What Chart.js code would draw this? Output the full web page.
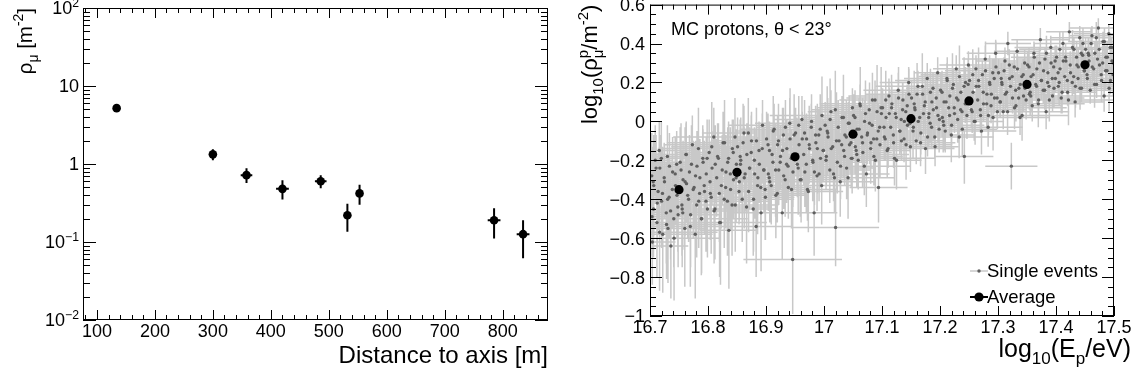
<!DOCTYPE html>
<html>
<head>
<meta charset="utf-8">
<script src="https://cdn.jsdelivr.net/npm/chart.js@4.4.1/dist/chart.umd.min.js"></script>
<style>
  html, body { margin: 0; padding: 0; background: #fff; }
  #wrap { position: relative; width: 1139px; height: 380px; }
  #left { position: absolute; left: 0; top: 0; }
  #right { position: absolute; left: 560px; top: 0; }
</style>
</head>
<body>
<div id="wrap">
  <canvas id="left" width="560" height="380"></canvas>
  <canvas id="right" width="579" height="380"></canvas>
</div>
<script>
// ---- left panel: muon density vs distance to axis ----
const distance    = [134, 300, 358, 420, 486, 532, 553, 785, 835];
const distanceErr = [6, 6, 10, 11, 10, 6, 6, 11, 11];
const rhoMu       = [5.2, 1.33, 0.72, 0.48, 0.60, 0.22, 0.42, 0.19, 0.126];
const rhoMuLow    = [4.9, 1.12, 0.57, 0.35, 0.49, 0.135, 0.30, 0.111, 0.062];
const rhoMuHigh   = [5.5, 1.54, 0.88, 0.62, 0.72, 0.31, 0.54, 0.27, 0.19];

const leftXTicks  = [100, 200, 300, 400, 500, 600, 700, 800];
const leftXLabels = ['100', '200', '300', '400', '500', '600', '700', '800'];
const leftYTicks  = [0.01, 0.1, 1, 10, 100];
const leftYLabels = [['10', '\u22122'], ['10', '\u22121'], ['1', ''], ['10', ''], ['10', '2']];

// ---- right panel: log10(rho) vs log10(E), averages ----
const avgEnergy = [16.75, 16.85, 16.95, 17.05, 17.15, 17.25, 17.35, 17.45];
const avgLogRho = [-0.351, -0.262, -0.182, -0.066, 0.014, 0.105, 0.190, 0.291];

// single events, first batch
const evEnergy = [
  16.703,16.706,16.709,16.712,16.714,16.717,16.720,16.722,16.725,16.728,16.730,16.733,16.736,16.739,16.741,16.744,16.746,16.748,16.704,16.716,16.731,
  16.752,16.755,16.757,16.760,16.762,16.765,16.768,16.770,16.773,16.776,16.778,16.781,16.784,16.786,16.789,16.791,16.794,16.797,16.799,16.763,
  16.802,16.804,16.807,16.810,16.812,16.815,16.818,16.820,16.823,16.826,16.828,16.831,16.834,16.836,16.839,16.842,16.844,16.847,16.849,
  16.851,16.854,16.856,16.859,16.862,16.864,16.867,16.870,16.872,16.875,16.878,16.880,16.883,16.886,16.888,16.891,16.894,16.896,16.899,
  16.901,16.904,16.906,16.909,16.912,16.914,16.917,16.920,16.922,16.925,16.928,16.930,16.933,16.936,16.938,16.941,16.944,16.946,16.949,
  16.951,16.954,16.957,16.959,16.962,16.965,16.967,16.970,16.973,16.975,16.978,16.981,16.983,16.986,16.988,16.991,16.994,16.996,16.999,
  17.002,17.004,17.007,17.010,17.012,17.015,17.018,17.020,17.023,17.026,17.028,17.031,17.034,17.036,17.039,17.042,17.044,17.047,17.049,
  17.051,17.054,17.057,17.059,17.062,17.065,17.067,17.070,17.073,17.075,17.078,17.081,17.083,17.086,17.088,17.091,17.094,17.096,17.099,
  17.101,17.104,17.107,17.109,17.112,17.115,17.117,17.120,17.123,17.125,17.128,17.131,17.133,17.136,17.138,17.141,17.144,17.146,17.149,
  17.151,17.154,17.157,17.159,17.162,17.165,17.167,17.170,17.173,17.175,17.178,17.181,17.183,17.186,17.188,17.191,17.194,17.196,17.199,
  17.201,17.204,17.207,17.209,17.212,17.215,17.217,17.220,17.223,17.225,17.228,17.231,17.233,17.236,17.238,17.242,17.244,17.246,17.249,
  17.251,17.254,17.257,17.259,17.262,17.265,17.267,17.270,17.273,17.275,17.278,17.281,17.283,17.286,17.288,17.291,17.294,17.296,17.299,
  17.301,17.304,17.307,17.309,17.312,17.315,17.317,17.320,17.323,17.325,17.328,17.331,17.333,17.336,17.338,17.341,17.344,17.346,17.349,
  17.351,17.354,17.357,17.359,17.362,17.365,17.367,17.370,17.373,17.375,17.378,17.381,17.383,17.386,17.388,17.391,17.394,17.396,17.399,
  17.401,17.404,17.407,17.409,17.412,17.415,17.417,17.420,17.423,17.425,17.428,17.431,17.433,17.436,17.438,17.441,17.444,17.446,17.449,
  17.451,17.454,17.457,17.459,17.462,17.465,17.467,17.470,17.473,17.475,17.478,17.481,17.483,17.486,17.488,17.491,17.494,17.496,17.499
];
const evLogRho = [
  -0.28,-0.45,-0.20,-0.52,-0.36,-0.24,-0.41,-0.58,-0.31,-0.47,-0.18,-0.39,-0.64,-0.26,-0.50,-0.33,-0.22,-0.44,-0.62,-0.15,-0.55,
  -0.21,-0.43,-0.30,-0.55,-0.17,-0.38,-0.26,-0.48,-0.12,-0.34,-0.58,-0.23,-0.41,-0.29,-0.50,-0.19,-0.36,-0.27,-0.45,-0.32,
  -0.16,-0.37,-0.24,-0.08,-0.45,-0.29,-0.19,-0.52,-0.33,-0.11,-0.40,-0.26,-0.21,-0.56,-0.35,-0.14,-0.30,-0.43,-0.22,
  -0.13,-0.31,-0.22,-0.40,-0.06,-0.27,-0.17,-0.36,-0.24,-0.10,-0.45,-0.20,-0.54,-0.29,-0.15,-0.34,-0.02,-0.25,-0.39,
  -0.09,-0.27,-0.15,-0.33,-0.21,-0.04,-0.38,-0.12,-0.25,-0.18,-0.47,-0.07,-0.30,-0.14,-0.23,-0.01,-0.35,-0.71,-0.19,
  -0.06,-0.22,-0.12,-0.30,0.01,-0.17,-0.26,-0.09,-0.36,-0.14,-0.03,-0.21,-0.47,-0.11,-0.28,-0.07,-0.19,-0.33,-0.15,
  -0.02,-0.18,-0.08,-0.25,0.05,-0.13,-0.29,-0.545,-0.21,-0.10,-0.31,0.02,-0.15,-0.07,-0.24,-0.01,-0.12,-0.19,0.07,
  0.03,-0.13,-0.04,-0.20,0.09,-0.08,-0.16,0.00,-0.27,-0.06,0.06,-0.11,-0.02,-0.18,0.11,-0.09,-0.34,-0.03,0.04,
  0.07,-0.08,0.02,-0.15,0.13,-0.03,0.09,-0.11,0.04,-0.20,0.16,-0.05,0.01,0.11,-0.09,0.05,-0.02,0.20,-0.13,
  0.12,-0.03,0.06,-0.10,0.18,0.02,-0.06,0.14,0.08,-0.14,0.22,0.04,-0.01,0.10,0.17,-0.08,0.07,0.25,0.01,
  0.16,0.02,0.10,-0.05,0.22,0.07,0.13,-0.02,0.19,0.04,0.27,0.11,-0.08,0.15,0.05,-0.18,0.20,0.09,0.29,
  0.21,0.06,0.15,0.00,0.27,0.11,0.18,0.03,0.24,0.09,0.32,0.14,-0.03,0.19,0.08,0.25,0.12,0.35,0.05,
  0.25,0.10,0.19,0.05,0.31,0.15,0.40,0.22,-0.23,0.12,0.28,0.08,0.36,0.17,0.02,0.23,0.13,0.30,0.19,
  0.29,0.14,0.23,0.08,0.35,0.19,0.27,0.11,0.42,0.21,0.16,0.32,0.05,0.25,0.18,0.38,0.13,0.28,0.22,
  0.33,0.18,0.27,0.12,0.40,0.23,0.31,0.15,0.46,0.25,0.20,0.37,0.10,0.29,0.22,0.43,0.17,0.34,0.26,
  0.37,0.22,0.31,0.16,0.44,0.27,0.35,0.19,0.48,0.29,0.24,0.41,0.13,0.33,0.26,0.45,0.21,0.38,0.30
];
const evEnergyErr = [
  0.04,0.06,0.03,0.05,0.07,0.04,0.05,0.03,0.06,0.04,0.05,0.08,0.03,0.05,0.04,0.06,0.05,0.03,0.04,0.06,0.05,
  0.05,0.03,0.07,0.04,0.06,0.05,0.09,0.04,0.05,0.06,0.03,0.07,0.05,0.04,0.06,0.05,0.08,0.04,0.05,0.06,
  0.06,0.04,0.05,0.07,0.03,0.06,0.05,0.04,0.08,0.05,0.06,0.04,0.07,0.05,0.03,0.06,0.05,0.04,0.07,
  0.05,0.07,0.04,0.06,0.05,0.08,0.04,0.06,0.05,0.07,0.04,0.05,0.06,0.04,0.07,0.05,0.06,0.04,0.05,
  0.06,0.04,0.05,0.07,0.04,0.06,0.05,0.08,0.04,0.05,0.06,0.04,0.07,0.05,0.04,0.06,0.05,0.085,0.04,
  0.05,0.07,0.04,0.06,0.05,0.04,0.08,0.05,0.06,0.04,0.05,0.07,0.04,0.06,0.05,0.04,0.06,0.05,0.07,
  0.04,0.06,0.05,0.07,0.04,0.05,0.06,0.075,0.05,0.04,0.06,0.05,0.07,0.04,0.05,0.06,0.04,0.05,0.06,
  0.05,0.04,0.06,0.05,0.07,0.04,0.05,0.06,0.04,0.05,0.07,0.04,0.06,0.05,0.04,0.06,0.05,0.04,0.06,
  0.04,0.06,0.05,0.04,0.07,0.05,0.04,0.06,0.05,0.04,0.06,0.05,0.07,0.04,0.05,0.06,0.04,0.05,0.06,
  0.05,0.04,0.06,0.05,0.04,0.07,0.05,0.04,0.06,0.05,0.04,0.06,0.05,0.07,0.04,0.05,0.06,0.04,0.05,
  0.04,0.06,0.05,0.04,0.06,0.05,0.07,0.04,0.05,0.06,0.04,0.05,0.06,0.04,0.05,0.05,0.04,0.06,0.05,
  0.05,0.04,0.06,0.05,0.04,0.05,0.06,0.04,0.05,0.07,0.04,0.05,0.06,0.04,0.05,0.04,0.06,0.05,0.04,
  0.04,0.05,0.06,0.04,0.05,0.06,0.04,0.05,0.045,0.06,0.04,0.05,0.04,0.06,0.05,0.04,0.05,0.06,0.04,
  0.05,0.04,0.06,0.05,0.04,0.05,0.06,0.04,0.05,0.04,0.06,0.05,0.04,0.05,0.06,0.04,0.05,0.04,0.06,
  0.04,0.05,0.06,0.04,0.05,0.04,0.06,0.05,0.04,0.05,0.06,0.04,0.05,0.04,0.06,0.05,0.04,0.05,0.06,
  0.05,0.04,0.06,0.05,0.04,0.05,0.04,0.06,0.05,0.04,0.05,0.06,0.04,0.05,0.04,0.06,0.05,0.04,0.05
];
const evLogRhoErr = [
  0.22,0.25,0.18,0.28,0.20,0.17,0.24,0.30,0.19,0.26,0.16,0.21,0.27,0.18,0.25,0.20,0.17,0.23,0.22,0.15,0.28,
  0.18,0.26,0.20,0.30,0.16,0.22,0.19,0.27,0.15,0.21,0.33,0.18,0.24,0.20,0.28,0.17,0.22,0.19,0.25,0.20,
  0.17,0.24,0.19,0.15,0.26,0.20,0.18,0.28,0.22,0.16,0.25,0.19,0.18,0.30,0.21,0.15,0.20,0.24,0.18,
  0.15,0.20,0.17,0.22,0.14,0.19,0.16,0.21,0.18,0.15,0.24,0.17,0.26,0.19,0.15,0.20,0.13,0.18,0.22,
  0.14,0.19,0.15,0.20,0.17,0.13,0.22,0.15,0.18,0.16,0.24,0.14,0.19,0.15,0.17,0.13,0.20,0.28,0.16,
  0.13,0.17,0.14,0.19,0.12,0.16,0.18,0.13,0.21,0.15,0.12,0.16,0.22,0.14,0.18,0.13,0.15,0.20,0.14,
  0.12,0.15,0.13,0.17,0.11,0.14,0.18,0.20,0.16,0.13,0.18,0.11,0.14,0.12,0.16,0.11,0.13,0.15,0.10,
  0.11,0.14,0.12,0.15,0.10,0.13,0.14,0.11,0.17,0.12,0.10,0.13,0.11,0.15,0.10,0.12,0.18,0.11,0.10,
  0.10,0.12,0.10,0.14,0.09,0.11,0.10,0.13,0.10,0.15,0.09,0.11,0.10,0.09,0.12,0.10,0.11,0.08,0.13,
  0.09,0.11,0.10,0.12,0.08,0.10,0.11,0.09,0.09,0.13,0.08,0.10,0.10,0.09,0.08,0.11,0.09,0.08,0.10,
  0.09,0.10,0.09,0.11,0.08,0.09,0.08,0.10,0.08,0.10,0.07,0.09,0.11,0.08,0.09,0.14,0.08,0.09,0.07,
  0.08,0.09,0.08,0.10,0.07,0.09,0.08,0.09,0.07,0.09,0.07,0.08,0.10,0.08,0.09,0.07,0.08,0.07,0.09,
  0.07,0.08,0.07,0.09,0.07,0.08,0.06,0.07,0.12,0.08,0.07,0.08,0.06,0.07,0.09,0.07,0.08,0.07,0.07,
  0.07,0.08,0.07,0.08,0.06,0.07,0.07,0.08,0.06,0.07,0.07,0.06,0.09,0.07,0.07,0.06,0.08,0.06,0.07,
  0.06,0.07,0.06,0.08,0.06,0.07,0.06,0.07,0.05,0.06,0.07,0.06,0.08,0.06,0.07,0.06,0.07,0.06,0.06,
  0.06,0.07,0.06,0.07,0.05,0.06,0.06,0.07,0.05,0.06,0.07,0.05,0.08,0.06,0.06,0.05,0.07,0.05,0.06
];

// single events, second batch
const evEnergyB = [
  16.7035,16.7065,16.7105,16.7125,16.7165,16.7195,16.7215,16.7245,16.7285,16.7305,16.7335,16.7355,16.7385,16.7415,16.7435,16.7465,16.7485,16.7055,
  16.7535,16.7565,16.7605,16.7625,16.7665,16.7695,16.7715,16.7745,16.7785,16.7805,16.7835,16.7855,16.7885,16.7915,16.7935,16.7965,16.7985,16.7555,
  16.8035,16.8065,16.8105,16.8125,16.8165,16.8195,16.8215,16.8245,16.8285,16.8305,16.8335,16.8355,16.8385,16.8415,16.8435,16.8465,16.8485,16.8055,
  16.8535,16.8565,16.8605,16.8625,16.8665,16.8695,16.8715,16.8745,16.8785,16.8805,16.8835,16.8855,16.8885,16.8915,16.8935,16.8965,16.8985,16.8555,
  16.9035,16.9065,16.9105,16.9125,16.9165,16.9195,16.9215,16.9245,16.9285,16.9305,16.9335,16.9355,16.9385,16.9415,16.9435,16.9465,16.9485,16.9055,
  16.9535,16.9565,16.9605,16.9625,16.9665,16.9695,16.9715,16.9745,16.9785,16.9805,16.9835,16.9855,16.9885,16.9915,16.9935,16.9965,16.9985,16.9555,
  17.0035,17.0065,17.0105,17.0125,17.0165,17.0195,17.0215,17.0245,17.0285,17.0305,17.0335,17.0355,17.0385,17.0415,17.0435,17.0465,17.0485,17.0055,
  17.0535,17.0565,17.0605,17.0625,17.0665,17.0695,17.0715,17.0745,17.0785,17.0805,17.0835,17.0855,17.0885,17.0915,17.0935,17.0965,17.0985,17.0555,
  17.1035,17.1065,17.1105,17.1125,17.1165,17.1195,17.1215,17.1245,17.1285,17.1305,17.1335,17.1355,17.1385,17.1415,17.1435,17.1465,17.1485,17.1055,
  17.1535,17.1565,17.1605,17.1625,17.1665,17.1695,17.1715,17.1745,17.1785,17.1805,17.1835,17.1855,17.1885,17.1915,17.1935,17.1965,17.1985,17.1555,
  17.2035,17.2065,17.2105,17.2125,17.2165,17.2195,17.2215,17.2245,17.2285,17.2305,17.2335,17.2355,17.2385,17.2415,17.2435,17.2465,17.2485,17.2055,
  17.2535,17.2565,17.2605,17.2625,17.2665,17.2695,17.2715,17.2745,17.2785,17.2805,17.2835,17.2855,17.2885,17.2915,17.2935,17.2965,17.2985,17.2555,
  17.3035,17.3065,17.3105,17.3125,17.3165,17.3195,17.3215,17.3245,17.3285,17.3305,17.3335,17.3355,17.3385,17.3415,17.3435,17.3465,17.3485,17.3055,
  17.3535,17.3565,17.3605,17.3625,17.3665,17.3695,17.3715,17.3745,17.3785,17.3805,17.3835,17.3855,17.3885,17.3915,17.3935,17.3965,17.3985,17.3555,
  17.4035,17.4065,17.4105,17.4125,17.4165,17.4195,17.4215,17.4245,17.4285,17.4305,17.4335,17.4355,17.4385,17.4415,17.4435,17.4465,17.4485,17.4055,
  17.4535,17.4565,17.4605,17.4625,17.4665,17.4695,17.4715,17.4745,17.4785,17.4805,17.4835,17.4855,17.4885,17.4915,17.4935,17.4965,17.4985,17.4555
];
const evLogRhoB = [
  -0.49,-0.33,-0.24,-0.42,-0.57,-0.19,-0.37,-0.29,-0.53,-0.40,-0.23,-0.46,-0.35,-0.60,-0.27,-0.38,-0.48,-0.31,
  -0.25,-0.47,-0.31,-0.17,-0.40,-0.54,-0.22,-0.35,-0.28,-0.43,-0.14,-0.37,-0.50,-0.21,-0.33,-0.41,-0.19,-0.45,
  -0.31,-0.13,-0.46,-0.22,-0.18,-0.37,-0.52,-0.25,-0.11,-0.34,-0.41,-0.19,-0.27,-0.43,-0.16,-0.08,-0.29,-0.39,
  -0.36,-0.20,-0.11,-0.29,-0.44,-0.06,-0.24,-0.16,-0.40,-0.27,-0.10,-0.33,-0.22,-0.47,-0.14,-0.25,-0.35,-0.18,
  -0.12,-0.31,-0.17,-0.05,-0.25,-0.37,-0.10,-0.21,-0.15,-0.28,-0.03,-0.22,-0.34,-0.09,-0.19,-0.26,-0.07,-0.29,
  -0.17,-0.02,-0.30,-0.09,-0.06,-0.22,-0.35,-0.12,0.00,-0.20,-0.26,-0.07,-0.14,-0.27,-0.04,0.03,-0.15,-0.24,
  -0.20,-0.06,0.01,-0.14,-0.27,0.06,-0.10,-0.03,-0.23,-0.12,0.02,-0.18,-0.08,-0.29,-0.01,-0.11,-0.19,-0.05,
  0.02,-0.17,-0.04,0.08,-0.11,-0.23,0.04,-0.07,-0.01,-0.14,0.11,-0.09,-0.20,0.05,-0.05,-0.12,0.07,-0.15,
  -0.03,0.11,-0.14,0.04,0.07,-0.07,-0.19,0.02,0.12,-0.05,-0.10,0.06,0.00,-0.12,0.08,0.14,-0.01,-0.09,
  -0.05,0.07,0.14,0.00,-0.11,0.18,0.04,0.10,-0.08,0.02,0.15,-0.03,0.06,-0.13,0.12,0.03,-0.04,0.09,
  0.15,-0.02,0.10,0.21,0.03,-0.07,0.17,0.07,0.12,0.01,0.23,0.06,-0.04,0.18,0.09,0.03,0.19,0.00,
  0.11,0.24,0.00,0.18,0.21,0.06,-0.05,0.15,0.26,0.09,0.03,0.20,0.14,0.02,0.22,0.28,0.12,0.05,
  0.10,0.20,0.26,0.14,0.05,0.29,0.18,0.23,0.07,0.16,0.27,0.12,0.19,0.03,0.24,0.17,0.11,0.22,
  0.28,0.13,0.24,0.33,0.18,0.09,0.30,0.21,0.26,0.16,0.35,0.20,0.11,0.30,0.22,0.17,0.31,0.15,
  0.25,0.37,0.15,0.31,0.33,0.21,0.11,0.29,0.38,0.23,0.18,0.33,0.28,0.17,0.35,0.40,0.26,0.20,
  0.24,0.34,0.40,0.28,0.19,0.43,0.32,0.37,0.21,0.30,0.41,0.26,0.33,0.17,0.38,0.31,0.24,0.35
];
const evEnergyErrB = [
  0.05,0.08,0.04,0.06,0.10,0.05,0.07,0.04,0.09,0.06,0.05,0.07,0.04,0.08,0.06,0.05,0.07,0.04,
  0.07,0.05,0.09,0.04,0.06,0.08,0.05,0.10,0.04,0.06,0.07,0.05,0.08,0.04,0.06,0.09,0.05,0.07,
  0.04,0.07,0.06,0.09,0.05,0.04,0.08,0.06,0.10,0.05,0.07,0.04,0.06,0.08,0.05,0.07,0.04,0.09,
  0.06,0.09,0.05,0.07,0.04,0.08,0.06,0.05,0.07,0.10,0.04,0.06,0.08,0.05,0.07,0.04,0.09,0.06,
  0.05,0.08,0.04,0.06,0.10,0.05,0.07,0.04,0.09,0.06,0.05,0.07,0.04,0.08,0.06,0.05,0.07,0.04,
  0.07,0.05,0.09,0.04,0.06,0.08,0.05,0.10,0.04,0.06,0.07,0.05,0.08,0.04,0.06,0.09,0.05,0.07,
  0.04,0.07,0.06,0.09,0.05,0.04,0.08,0.06,0.10,0.05,0.07,0.04,0.06,0.08,0.05,0.07,0.04,0.09,
  0.06,0.09,0.05,0.07,0.04,0.08,0.06,0.05,0.07,0.10,0.04,0.06,0.08,0.05,0.07,0.04,0.09,0.06,
  0.05,0.08,0.04,0.06,0.10,0.05,0.07,0.04,0.09,0.06,0.05,0.07,0.04,0.08,0.06,0.05,0.07,0.04,
  0.07,0.05,0.09,0.04,0.06,0.08,0.05,0.10,0.04,0.06,0.07,0.05,0.08,0.04,0.06,0.09,0.05,0.07,
  0.04,0.07,0.06,0.09,0.05,0.04,0.08,0.06,0.10,0.05,0.07,0.04,0.06,0.08,0.05,0.07,0.04,0.09,
  0.06,0.09,0.05,0.07,0.04,0.08,0.06,0.05,0.07,0.10,0.04,0.06,0.08,0.05,0.07,0.04,0.09,0.06,
  0.05,0.08,0.04,0.06,0.10,0.05,0.07,0.04,0.09,0.06,0.05,0.07,0.04,0.08,0.06,0.05,0.07,0.04,
  0.07,0.05,0.09,0.04,0.06,0.08,0.05,0.10,0.04,0.06,0.07,0.05,0.08,0.04,0.06,0.09,0.05,0.07,
  0.04,0.07,0.06,0.09,0.05,0.04,0.08,0.06,0.10,0.05,0.07,0.04,0.06,0.08,0.05,0.07,0.04,0.09,
  0.06,0.09,0.05,0.07,0.04,0.08,0.06,0.05,0.07,0.10,0.04,0.06,0.08,0.05,0.07,0.04,0.09,0.06
];
const evLogRhoErrB = [
  0.20,0.26,0.17,0.23,0.30,0.19,0.24,0.18,0.28,0.21,0.17,0.25,0.20,0.32,0.19,0.22,0.27,0.18,
  0.24,0.19,0.28,0.17,0.22,0.31,0.20,0.25,0.18,0.27,0.21,0.19,0.29,0.17,0.23,0.26,0.20,0.30,
  0.19,0.23,0.27,0.20,0.17,0.25,0.32,0.18,0.22,0.21,0.28,0.19,0.24,0.26,0.17,0.20,0.23,0.29,
  0.17,0.22,0.20,0.26,0.29,0.18,0.21,0.19,0.27,0.23,0.17,0.25,0.20,0.30,0.18,0.22,0.26,0.19,
  0.16,0.21,0.14,0.18,0.24,0.15,0.19,0.14,0.22,0.17,0.14,0.20,0.16,0.26,0.15,0.18,0.21,0.15,
  0.19,0.15,0.22,0.14,0.17,0.25,0.16,0.20,0.14,0.21,0.17,0.15,0.23,0.14,0.18,0.20,0.16,0.24,
  0.15,0.18,0.21,0.16,0.14,0.20,0.25,0.14,0.17,0.17,0.22,0.15,0.19,0.21,0.14,0.16,0.18,0.23,
  0.14,0.17,0.16,0.20,0.23,0.15,0.17,0.15,0.21,0.18,0.14,0.20,0.16,0.24,0.14,0.17,0.21,0.15,
  0.12,0.15,0.10,0.13,0.17,0.11,0.14,0.10,0.16,0.12,0.10,0.14,0.12,0.18,0.11,0.13,0.15,0.11,
  0.14,0.11,0.16,0.10,0.12,0.17,0.12,0.15,0.10,0.15,0.12,0.11,0.16,0.10,0.13,0.14,0.12,0.17,
  0.11,0.13,0.15,0.12,0.10,0.14,0.18,0.10,0.13,0.12,0.16,0.11,0.14,0.15,0.10,0.12,0.13,0.16,
  0.10,0.13,0.12,0.14,0.17,0.11,0.12,0.11,0.15,0.13,0.10,0.14,0.12,0.17,0.10,0.13,0.15,0.11,
  0.08,0.10,0.07,0.09,0.12,0.08,0.10,0.07,0.11,0.09,0.07,0.10,0.08,0.13,0.08,0.09,0.10,0.08,
  0.10,0.08,0.11,0.07,0.09,0.12,0.08,0.10,0.07,0.10,0.09,0.08,0.11,0.07,0.09,0.10,0.08,0.12,
  0.08,0.09,0.11,0.08,0.07,0.10,0.13,0.07,0.09,0.09,0.11,0.08,0.10,0.11,0.07,0.08,0.09,0.12,
  0.07,0.09,0.08,0.10,0.12,0.08,0.09,0.08,0.11,0.09,0.07,0.10,0.08,0.12,0.07,0.09,0.11,0.08
];

const rightXTicks  = [16.7, 16.8, 16.9, 17.0, 17.1, 17.2, 17.3, 17.4, 17.5];
const rightXLabels = ['16.7', '16.8', '16.9', '17', '17.1', '17.2', '17.3', '17.4', '17.5'];
const rightYTicks  = [-1, -0.8, -0.6, -0.4, -0.2, 0, 0.2, 0.4, 0.6];
const rightYLabels = ['\u22121', '\u22120.8', '\u22120.6', '\u22120.4', '\u22120.2', '0', '0.2', '0.4', '0.6'];

const FONT = '"Liberation Sans", Arial, Helvetica, sans-serif';
const TICK_SIZE = 18;

function setFont(ctx, px) { ctx.font = px + 'px ' + FONT; }

// rich text: {t} normal, {sup}/{sub} scripts (both = stacked)
function partWidth(ctx, p, size) {
  if (p.t !== undefined) { setFont(ctx, size); return ctx.measureText(p.t).width; }
  setFont(ctx, size * 0.68);
  const a = p.sup ? ctx.measureText(p.sup).width : 0;
  const b = p.sub ? ctx.measureText(p.sub).width : 0;
  return Math.max(a, b);
}

function drawRich(ctx, parts, x, y, size, align) {
  const widths = parts.map(p => partWidth(ctx, p, size));
  const total = widths.reduce((s, w) => s + w, 0);
  let cx = align === 'right' ? x - total : align === 'center' ? x - total / 2 : x;
  ctx.textAlign = 'left';
  ctx.textBaseline = 'alphabetic';
  parts.forEach((p, i) => {
    if (p.t !== undefined) {
      setFont(ctx, size);
      ctx.fillText(p.t, cx, y);
    } else {
      setFont(ctx, size * 0.68);
      if (p.sup) ctx.fillText(p.sup, cx, y - size * 0.42);
      if (p.sub) ctx.fillText(p.sub, cx, y + size * 0.28);
    }
    cx += widths[i];
  });
}

// error bars under the markers
const errorBars = {
  id: 'errorBars',
  beforeDatasetsDraw(chart) {
    const { ctx, chartArea: a, scales: { x, y } } = chart;
    ctx.save();
    ctx.beginPath();
    ctx.rect(a.left, a.top, a.right - a.left, a.bottom - a.top);
    ctx.clip();
    chart.data.datasets.forEach(ds => {
      if (!ds.errors) return;
      ctx.strokeStyle = ds.errorColor;
      ctx.lineWidth = ds.errorWidth;
      ctx.beginPath();
      ds.errors.forEach((e, i) => {
        const px = x.getPixelForValue(ds.data[i].x);
        const py = y.getPixelForValue(ds.data[i].y);
        ctx.moveTo(x.getPixelForValue(e.xl), py);
        ctx.lineTo(x.getPixelForValue(e.xh), py);
        ctx.moveTo(px, y.getPixelForValue(e.yl));
        ctx.lineTo(px, y.getPixelForValue(e.yh));
      });
      ctx.stroke();
    });
    ctx.restore();
  }
};
Chart.register(errorBars);

// ROOT-like frame: inward ticks on all four sides, labels, titles
function rootFrame(cfg) {
  return {
    id: 'rootFrame',
    afterDraw(chart) {
      const { ctx, chartArea: a, scales: { x, y } } = chart;
      ctx.save();
      ctx.strokeStyle = '#000';
      ctx.fillStyle = '#000';
      ctx.lineWidth = 1;
      ctx.strokeRect(a.left + 0.5, a.top + 0.5, a.right - a.left - 1, a.bottom - a.top - 1);

      ctx.beginPath();
      const xTick = (v, len) => {
        const px = Math.round(x.getPixelForValue(v)) + 0.5;
        ctx.moveTo(px, a.bottom); ctx.lineTo(px, a.bottom - len);
        ctx.moveTo(px, a.top); ctx.lineTo(px, a.top + len);
      };
      const yTick = (v, len) => {
        const py = Math.round(y.getPixelForValue(v)) + 0.5;
        ctx.moveTo(a.left, py); ctx.lineTo(a.left + len, py);
        ctx.moveTo(a.right, py); ctx.lineTo(a.right - len, py);
      };
      x.ticks.forEach(t => xTick(t.value, cfg.xMajor));
      cfg.xMinorValues.forEach(v => xTick(v, cfg.xMinor));
      y.ticks.forEach(t => yTick(t.value, cfg.yMajor));
      cfg.yMinorValues.forEach(v => yTick(v, cfg.yMinor));
      ctx.stroke();

      // tick labels
      x.ticks.forEach((t, i) => {
        drawRich(ctx, [{ t: cfg.xLabels[i] }], x.getPixelForValue(t.value),
          a.bottom + 11 + TICK_SIZE * 0.36, TICK_SIZE, 'center');
      });
      y.ticks.forEach((t, i) => {
        drawRich(ctx, cfg.yLabelParts(i), a.left - cfg.yLabelGap,
          y.getPixelForValue(t.value) + TICK_SIZE * 0.36, TICK_SIZE, 'right');
      });

      // axis titles
      drawRich(ctx, cfg.xTitle, a.right + (cfg.xTitleShift || 0), cfg.xTitleBaseline, cfg.xTitleSize, 'right');
      ctx.save();
      ctx.translate(cfg.yTitleBaseline, a.top);
      ctx.rotate(-Math.PI / 2);
      drawRich(ctx, cfg.yTitle, 0, 0, cfg.yTitleSize, 'right');
      ctx.restore();

      if (cfg.extra) cfg.extra(ctx, chart);
      ctx.restore();
    }
  };
}

const leftXMinor = [];
for (let v = 80; v <= 870; v += 20) if (v % 100 !== 0) leftXMinor.push(v);
const leftYMinor = [];
[0.01, 0.1, 1, 10].forEach(d => { for (let m = 2; m <= 9; m++) leftYMinor.push(d * m); });

const rightXMinor = [];
for (let k = 0; k <= 40; k++) if (k % 5 !== 0) rightXMinor.push(16.7 + k * 0.02);
const rightYMinor = [];
for (let k = 0; k <= 32; k++) if (k % 4 !== 0) rightYMinor.push(-1 + k * 0.05);

const hidden = { display: false, ticks: { display: false }, grid: { display: false }, border: { display: false } };

new Chart(document.getElementById('left'), {
  type: 'scatter',
  data: {
    datasets: [{
      label: 'Muon density',
      data: distance.map((d, i) => ({ x: d, y: rhoMu[i] })),
      errors: distance.map((d, i) => ({ xl: d - distanceErr[i], xh: d + distanceErr[i], yl: rhoMuLow[i], yh: rhoMuHigh[i] })),
      errorColor: '#000',
      errorWidth: 2,
      pointRadius: 4.3,
      pointHoverRadius: 4.3,
      backgroundColor: '#000',
      borderWidth: 0
    }]
  },
  options: {
    responsive: false,
    animation: false,
    events: [],
    layout: { padding: { left: 83, top: 8, right: 12, bottom: 60 } },
    plugins: { legend: { display: false }, tooltip: { enabled: false } },
    scales: {
      x: { type: 'linear', min: 76, max: 878, ...hidden,
           afterBuildTicks: s => { s.ticks = leftXTicks.map(v => ({ value: v })); } },
      y: { type: 'logarithmic', min: 0.01, max: 100, ...hidden,
           afterBuildTicks: s => { s.ticks = leftYTicks.map(v => ({ value: v })); } }
    }
  },
  plugins: [rootFrame({
    xMajor: 10, xMinor: 5, yMajor: 13, yMinor: 7,
    xMinorValues: leftXMinor, yMinorValues: leftYMinor,
    xLabels: leftXLabels,
    yLabelParts: i => leftYLabels[i][1] ? [{ t: leftYLabels[i][0] }, { sup: leftYLabels[i][1] }] : [{ t: leftYLabels[i][0] }],
    yLabelGap: 4,
    xTitle: [{ t: 'Distance to axis [m]' }],
    xTitleSize: 24,
    xTitleBaseline: 363,
    yTitle: [{ t: '\u03c1' }, { sub: '\u03bc' }, { t: ' [m' }, { sup: '-2' }, { t: ']' }],
    yTitleSize: 20.5,
    yTitleBaseline: 32
  })]
});

const singleE = evEnergy.concat(evEnergyB);
const singleRho = evLogRho.concat(evLogRhoB);
const singleEErr = evEnergyErr.concat(evEnergyErrB);
const singleRhoErr = evLogRhoErr.concat(evLogRhoErrB);

new Chart(document.getElementById('right'), {
  type: 'scatter',
  data: {
    datasets: [{
      label: 'Average',
      data: avgEnergy.map((e, i) => ({ x: e, y: avgLogRho[i] })),
      pointRadius: 4.6,
      pointHoverRadius: 4.6,
      backgroundColor: '#000',
      borderWidth: 0
    }, {
      label: 'Single events',
      data: singleE.map((e, i) => ({ x: e, y: singleRho[i] })),
      errors: singleE.map((e, i) => ({ xl: e - singleEErr[i], xh: e + singleEErr[i],
                                       yl: singleRho[i] - singleRhoErr[i], yh: singleRho[i] + singleRhoErr[i] })),
      errorColor: '#c8c8c8',
      errorWidth: 1.5,
      pointRadius: 1.7,
      pointHoverRadius: 1.7,
      backgroundColor: '#5f5f5f',
      borderWidth: 0
    }]
  },
  options: {
    responsive: false,
    animation: false,
    events: [],
    layout: { padding: { left: 90, top: 4, right: 25, bottom: 64 } },
    plugins: { legend: { display: false }, tooltip: { enabled: false } },
    scales: {
      x: { type: 'linear', min: 16.7, max: 17.5, ...hidden,
           afterBuildTicks: s => { s.ticks = rightXTicks.map(v => ({ value: v })); } },
      y: { type: 'linear', min: -1, max: 0.6, ...hidden,
           afterBuildTicks: s => { s.ticks = rightYTicks.map(v => ({ value: v })); } }
    }
  },
  plugins: [rootFrame({
    xMajor: 10, xMinor: 5, yMajor: 12, yMinor: 6,
    xMinorValues: rightXMinor, yMinorValues: rightYMinor,
    xLabels: rightXLabels,
    yLabelParts: i => [{ t: rightYLabels[i] }],
    yLabelGap: 5,
    xTitle: [{ t: 'log' }, { sub: '10' }, { t: '(E' }, { sub: 'p' }, { t: '/eV)' }],
    xTitleSize: 25,
    xTitleShift: 17,
    xTitleBaseline: 357,
    yTitle: [{ t: 'log' }, { sub: '10' }, { t: '(\u03c1' }, { sup: 'p', sub: '\u03bc' }, { t: '/m' }, { sup: '-2' }, { t: ')' }],
    yTitleSize: 22,
    yTitleBaseline: 37,
    extra: (ctx, chart) => {
      setFont(ctx, 18);
      ctx.fillStyle = '#000';
      ctx.textAlign = 'left';
      ctx.textBaseline = 'alphabetic';
      ctx.fillText('MC protons, \u03b8 < 23\u00b0', 111, 35);

      // legend
      const [avg, single] = chart.data.datasets;
      const rows = [{ ds: single, y: 271, line: '#c8c8c8', lw: 1.5 }, { ds: avg, y: 297, line: '#000', lw: 2 }];
      rows.forEach(r => {
        ctx.strokeStyle = r.line;
        ctx.lineWidth = r.lw;
        ctx.beginPath();
        ctx.moveTo(410, r.y); ctx.lineTo(428, r.y);
        ctx.stroke();
        ctx.fillStyle = r.ds.backgroundColor;
        ctx.beginPath();
        ctx.arc(419, r.y, r.ds.pointRadius, 0, Math.PI * 2);
        ctx.fill();
        ctx.fillStyle = '#000';
        setFont(ctx, 18.5);
        ctx.textBaseline = 'middle';
        ctx.fillText(r.ds.label, 427, r.y + 1);
      });
    }
  })]
});
</script>
</body>
</html>
